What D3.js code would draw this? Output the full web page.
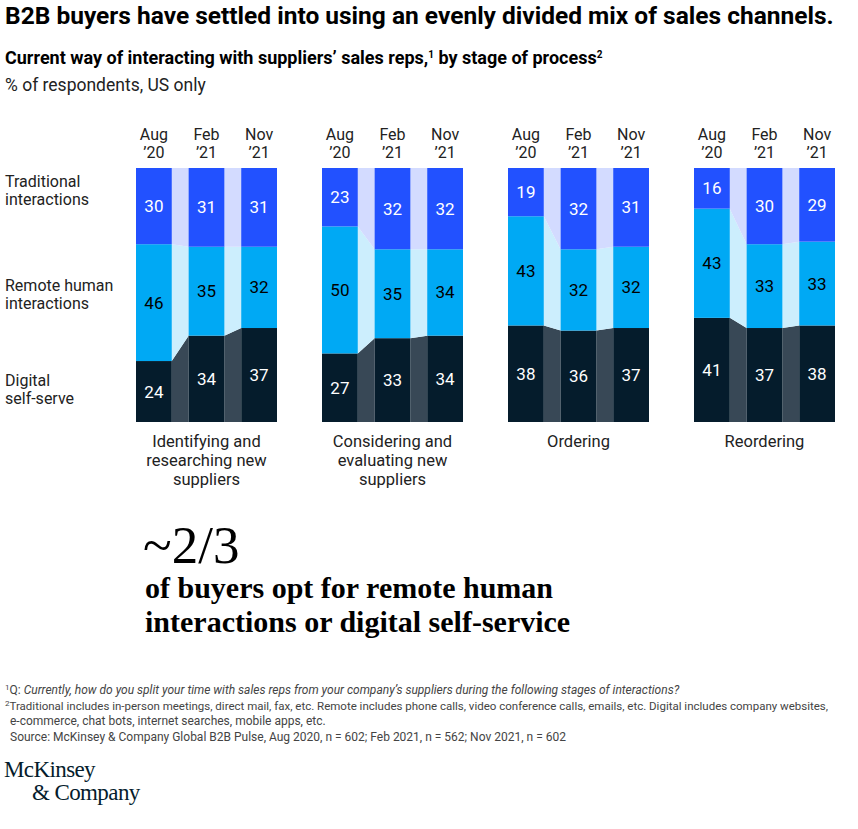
<!DOCTYPE html>
<html><head><meta charset="utf-8">
<script src="https://cdn.jsdelivr.net/npm/d3@7"></script>
<style>
body{margin:0;background:#fff;}
svg{display:block;}
</style></head>
<body>
<svg id="chart" width="858" height="829"></svg>
<script>
// ---- data ----
const stages = ["Identifying and researching new suppliers","Considering and evaluating new suppliers","Ordering","Reordering"];
const stageLines = [["Identifying and","researching new","suppliers"],["Considering and","evaluating new","suppliers"],["Ordering"],["Reordering"]];
const periods = ["Aug '20","Feb '21","Nov '21"];
const periodLines = [["Aug","’20"],["Feb","’21"],["Nov","’21"]];
const channels = ["Digital self-serve","Remote human interactions","Traditional interactions"];
const channelLines = [["Digital","self-serve"],["Remote human","interactions"],["Traditional","interactions"]];
// values[stage][period] for each channel
const digital     = [[24,34,37],[27,33,34],[38,36,37],[41,37,38]];
const remote      = [[46,35,32],[50,35,34],[43,32,32],[43,33,33]];
const traditional = [[30,31,31],[23,32,32],[19,32,31],[16,30,29]];

const barColors = ["#051C2C","#00A9F4","#2251FF"];
const linkColors = ["#384856","#CCEEFD","#D3DBFF"];
const textColors = ["#fff","#000","#fff"];

const svg = d3.select("#chart");
const F = "'Roboto','Liberation Sans',sans-serif";

// ---- titles ----
svg.append("text").attr("x",5).attr("y",24).attr("font-family",F).attr("font-weight","bold")
  .attr("font-size",24.5).attr("fill","#000")
  .text("B2B buyers have settled into using an evenly divided mix of sales channels.");
const sub = svg.append("text").attr("x",5).attr("y",64).attr("font-family",F).attr("font-weight","bold")
  .attr("font-size",18).attr("fill","#000");
sub.append("tspan").text("Current way of interacting with suppliers’ sales reps,");
sub.append("tspan").attr("font-size",10).attr("dy",-6).text("1");
sub.append("tspan").attr("dy",6).text(" by stage of process");
sub.append("tspan").attr("font-size",10).attr("dy",-6).text("2");
svg.append("text").attr("x",5).attr("y",91).attr("font-family",F)
  .attr("font-size",17.5).attr("fill","#222").text("% of respondents, US only");

// ---- scales ----
const y = d3.scaleLinear().domain([0,100]).range([422,168]);
const xg = d3.scaleBand().domain(stages).range([136,835]).paddingInner(0.242);
const xp = d3.scaleBand().domain(periods).range([0,xg.bandwidth()]).paddingInner(0.32);

const series = [digital, remote, traditional];

stages.forEach((st, si) => {
  const g = svg.append("g").attr("transform",`translate(${xg(st)},0)`);
  const stacks = periods.map((p, pi) => {
    let acc = 0;
    return series.map((s, ci) => { const y0 = acc; acc += s[si][pi]; return {y0, y1: acc, v: s[si][pi], ci}; });
  });
  // connectors
  for (let pi = 0; pi < periods.length - 1; pi++) {
    const xa = xp(periods[pi]) + xp.bandwidth();
    const xb = xp(periods[pi+1]);
    channels.forEach((c, ci) => {
      const a = stacks[pi][ci], b = stacks[pi+1][ci];
      const pts = [[xa,y(a.y0)],[xa,y(a.y1)],[xb,y(b.y1)],[xb,y(b.y0)]];
      g.append("path").attr("d", d3.line()(pts) + "Z").attr("fill", linkColors[ci]);
    });
  }
  // bars
  periods.forEach((p, pi) => {
    stacks[pi].forEach(d => {
      g.append("rect").attr("x", xp(p)).attr("width", xp.bandwidth())
        .attr("y", y(d.y1)).attr("height", y(d.y0) - y(d.y1)).attr("fill", barColors[d.ci]);
      g.append("text").attr("x", xp(p) + xp.bandwidth()/2).attr("y", (y(d.y0)+y(d.y1))/2 + 6)
        .attr("text-anchor","middle").attr("font-family",F).attr("font-size",17)
        .attr("fill", textColors[d.ci]).text(d.v);
    });
    periodLines[pi].forEach((t, li) => {
      g.append("text").attr("x", xp(p) + xp.bandwidth()/2).attr("y", 140 + li*18)
        .attr("text-anchor","middle").attr("font-family",F).attr("font-size",16)
        .attr("fill","#222").text(t);
    });
  });
  stageLines[si].forEach((t, li) => {
    g.append("text").attr("x", xg.bandwidth()/2).attr("y", 447 + li*19)
      .attr("text-anchor","middle").attr("font-family",F).attr("font-size",16.5)
      .attr("fill","#222").text(t);
  });
});

// channel labels on left
const labelY = [[386,404],[291,309],[187,205]];
channelLines.forEach((lines, ci) => {
  lines.forEach((t, li) => {
    svg.append("text").attr("x",5).attr("y",labelY[ci][li]).attr("font-family",F)
      .attr("font-size",16).attr("fill","#222").text(t);
  });
});

// ---- callout ----
const SF = "'Liberation Serif','DejaVu Serif',serif";
svg.append("text").attr("x",143).attr("y",563).attr("font-family",SF).attr("font-size",53)
  .attr("fill","#000").text("~2/3");
svg.append("text").attr("x",145).attr("y",598).attr("font-family",SF).attr("font-size",30)
  .attr("font-weight","bold").attr("fill","#000").text("of buyers opt for remote human");
svg.append("text").attr("x",145).attr("y",632).attr("font-family",SF).attr("font-size",30)
  .attr("font-weight","bold").attr("fill","#000").text("interactions or digital self-service");

// ---- footnotes ----
const fn = svg.append("g").attr("font-family",F).attr("font-size",12).attr("fill","#444");
const l1 = fn.append("text").attr("x",5).attr("y",694);
l1.append("tspan").attr("font-size",8).attr("dy",-4).text("1");
l1.append("tspan").attr("dy",4).text("Q: ");
l1.append("tspan").attr("font-style","italic").text("Currently, how do you split your time with sales reps from your company’s suppliers during the following stages of interactions?");
const l2 = fn.append("text").attr("x",5).attr("y",710).attr("font-size",11.5);
l2.append("tspan").attr("font-size",8).attr("dy",-4).text("2");
l2.append("tspan").attr("dy",4).text("Traditional includes in-person meetings, direct mail, fax, etc. Remote includes phone calls, video conference calls, emails, etc. Digital includes company websites,");
fn.append("text").attr("x",10).attr("y",725).text("e-commerce, chat bots, internet searches, mobile apps, etc.");
fn.append("text").attr("x",10).attr("y",741).text("Source: McKinsey & Company Global B2B Pulse, Aug 2020, n = 602; Feb 2021, n = 562; Nov 2021, n = 602");

// ---- logo ----
svg.append("text").attr("x",4).attr("y",777).attr("font-family",SF).attr("font-size",23)
  .attr("fill","#051C2C").attr("letter-spacing",-0.6).text("McKinsey");
svg.append("text").attr("x",32).attr("y",800).attr("font-family",SF).attr("font-size",23)
  .attr("fill","#051C2C").attr("letter-spacing",-0.6).text("& Company");
</script>
</body></html>
